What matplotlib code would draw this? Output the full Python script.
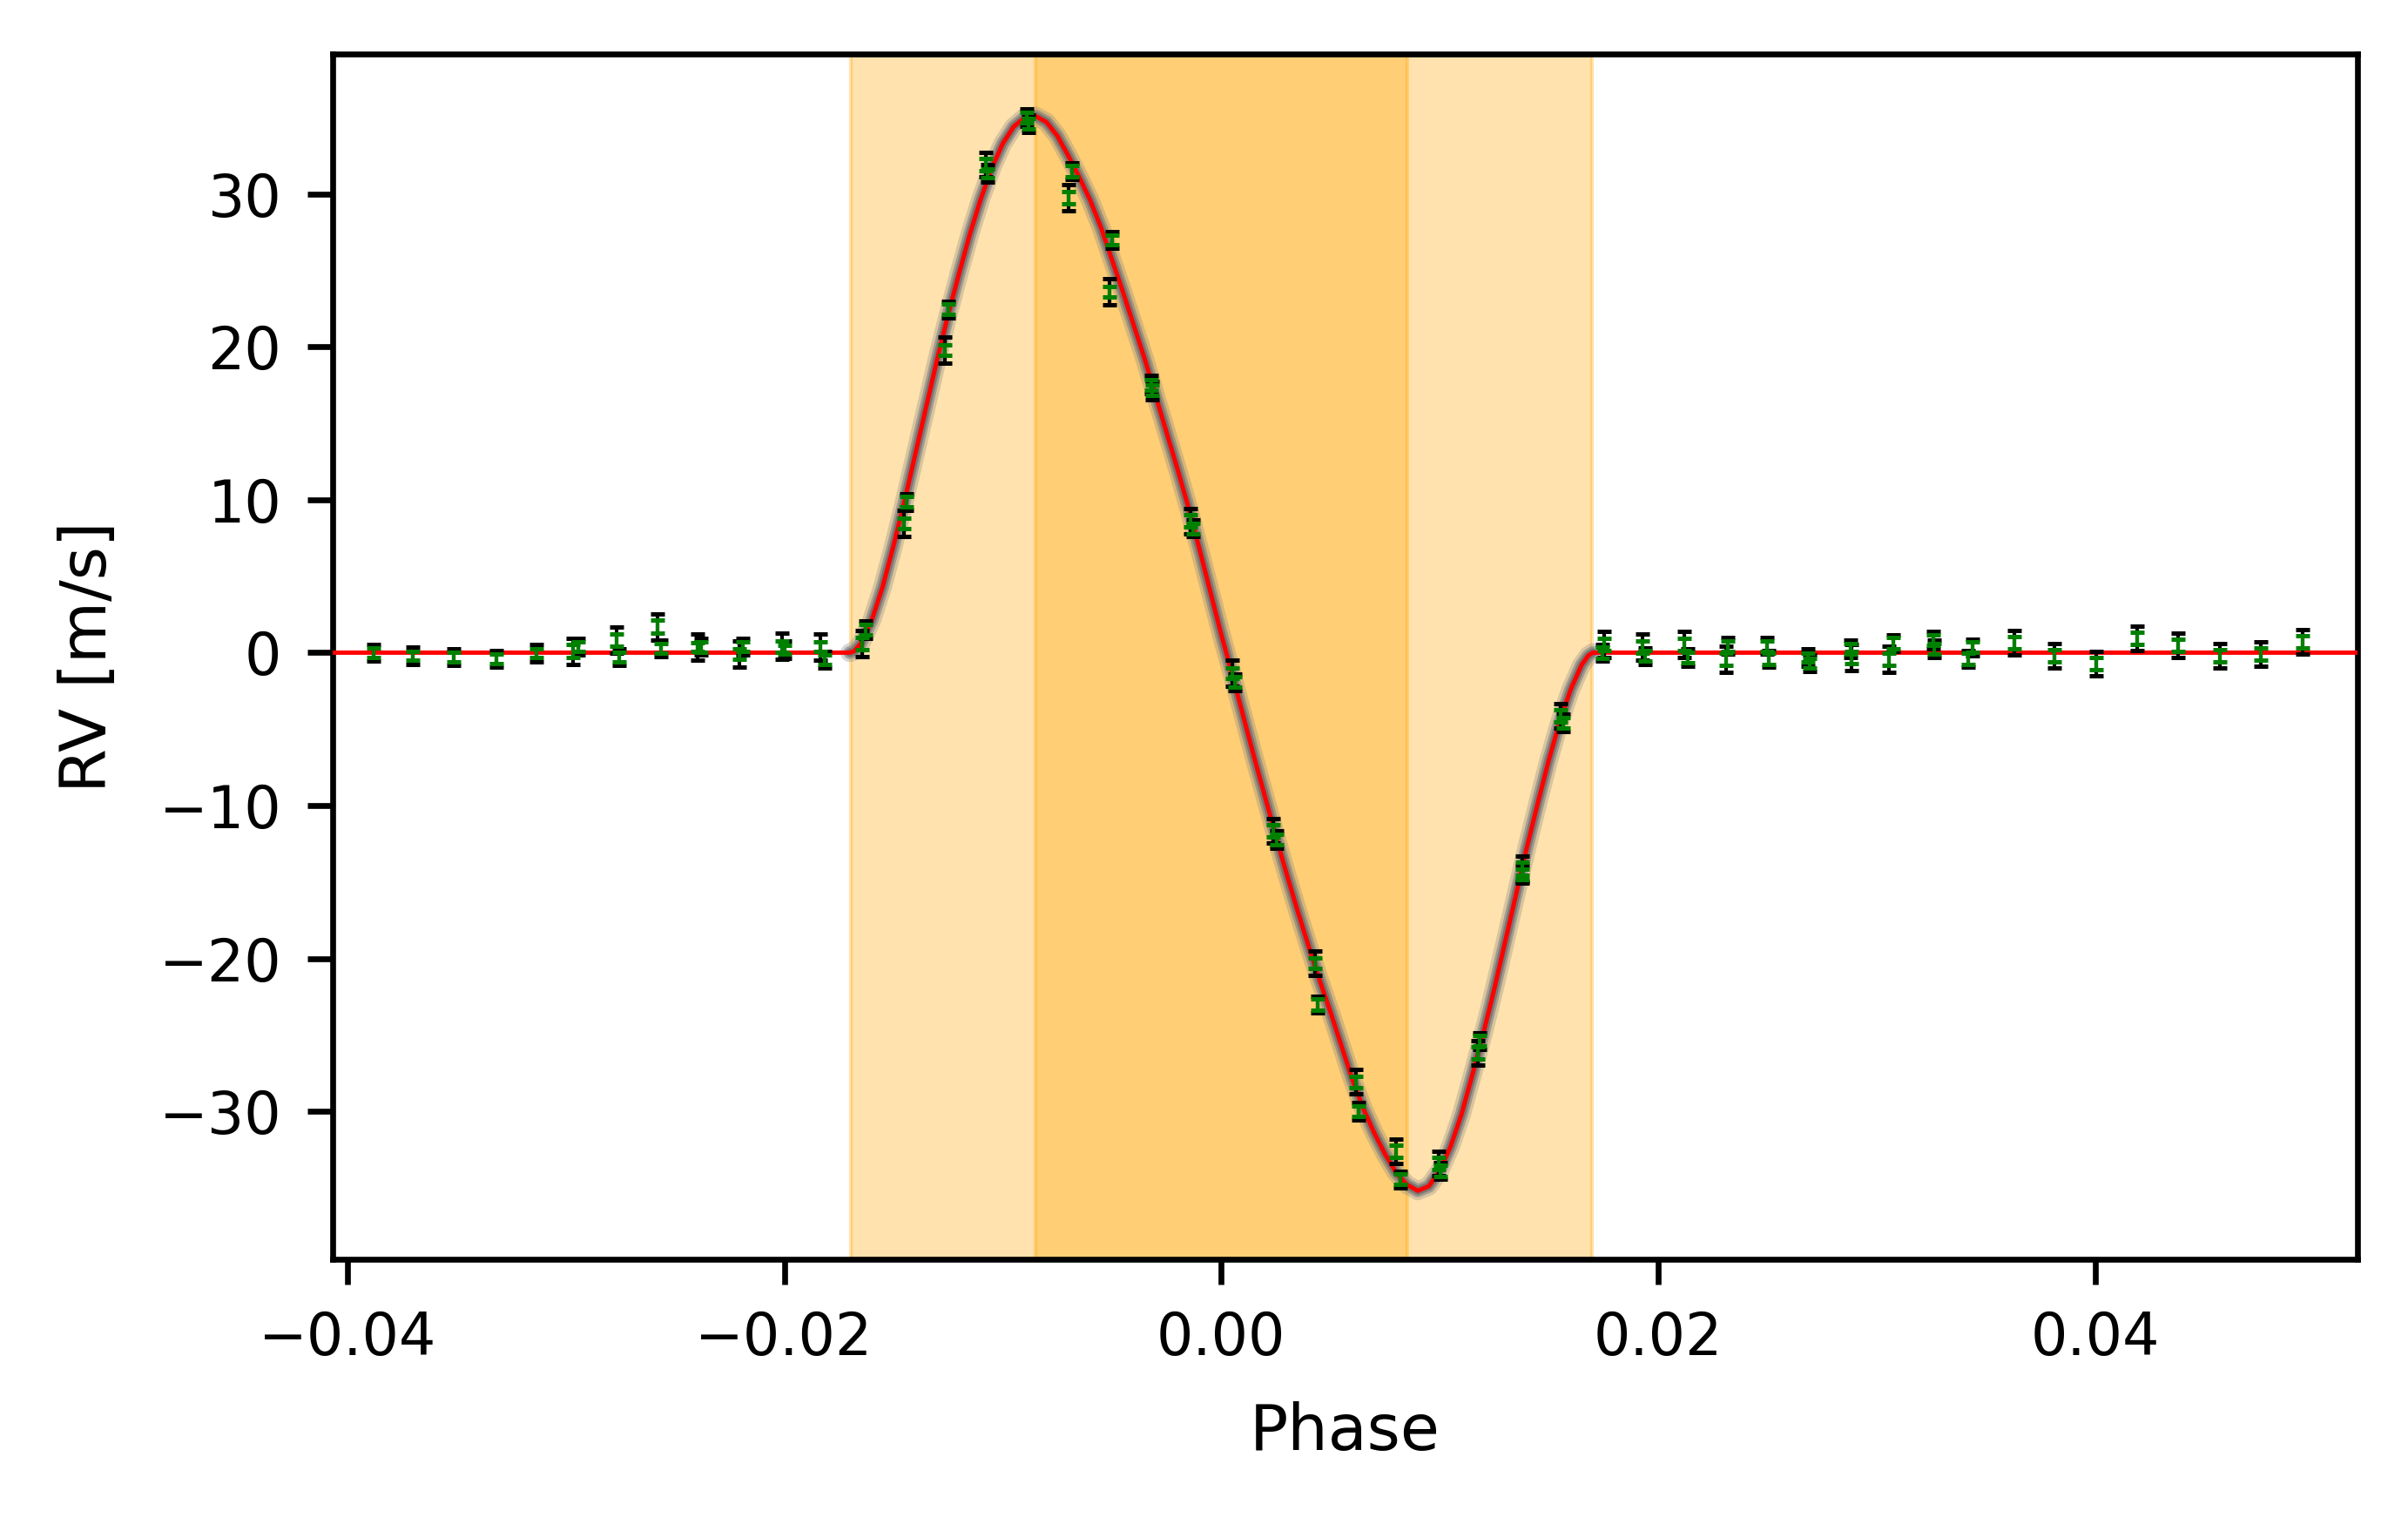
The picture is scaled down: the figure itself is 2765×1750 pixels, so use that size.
import matplotlib
matplotlib.use("Agg")
import matplotlib.pyplot as plt
import numpy as np

# ---- binned RV data: phase, RV [m/s], total error (black), photon error (green)
phase = [-0.03879, -0.03700, -0.03513, -0.03318, -0.03135,
         -0.02968, -0.02944, -0.02768, -0.02757, -0.02581, -0.02565,
         -0.02396, -0.02381, -0.02207, -0.02190, -0.02011, -0.02000,
         -0.01833, -0.01813, -0.01642, -0.01629,
         -0.01454, -0.01442, -0.01265, -0.01250, -0.01079, -0.01068,
         -0.00892, -0.00882, -0.00700, -0.00683, -0.00511, -0.00501,
         -0.00321, -0.00315, -0.00142, -0.00129, 0.00050, 0.00061,
         0.00237, 0.00253, 0.00429, 0.00443, 0.00616, 0.00629,
         0.00799, 0.00819, 0.00995, 0.01002, 0.01174, 0.01184,
         0.01377, 0.01380, 0.01555, 0.01566, 0.01752, 0.01745,
         0.01928, 0.01942, 0.02121, 0.02135, 0.02320, 0.02310,
         0.02497, 0.02507, 0.02686, 0.02695, 0.02881, 0.02885,
         0.03077, 0.03058, 0.03260, 0.03263, 0.03439, 0.03419,
         0.03632, 0.03814, 0.04004, 0.04193, 0.04380, 0.04571,
         0.04759, 0.04950]
rv = [0.0, -0.2, -0.28, -0.4, -0.03,
      0.1, 0.4, 0.82, -0.3, 1.7, 0.3,
      0.36, 0.38, -0.1, 0.4, 0.4, 0.2,
      0.38, -0.45, 0.6, 1.5,
      8.45, 9.86, 19.77, 22.45, 31.9, 31.35,
      35.0, 34.6, 29.74, 31.5, 23.6, 27.0,
      17.53, 17.15, 8.6, 8.13, -1.36, -1.93,
      -11.63, -12.22, -20.32, -23.02, -28.08, -30.0,
      -32.6, -34.45, -33.4, -33.9, -26.2, -25.4,
      -14.13, -14.5, -4.12, -4.59, 0.54, 0.0,
      0.35, -0.22, 0.54, -0.32, 0.44, -0.41,
      0.44, -0.4, -0.32, -0.7, 0.25, -0.32,
      0.63, -0.41, 0.82, 0.25, 0.35, -0.4,
      0.63, -0.19, -0.7, 0.92, 0.5, -0.22,
      -0.07, 0.73]
err_tot = [0.55, 0.55, 0.55, 0.55, 0.55,
           0.85, 0.55, 0.85, 0.55, 0.85, 0.55,
           0.85, 0.55, 0.85, 0.55, 0.85, 0.55,
           0.85, 0.55, 0.85, 0.55,
           0.85, 0.55, 0.85, 0.55, 0.80, 0.55,
           0.55, 0.55, 0.85, 0.55, 0.85, 0.55,
           0.60, 0.60, 0.85, 0.55, 0.85, 0.55,
           0.80, 0.55, 0.80, 0.55, 0.80, 0.55,
           0.80, 0.55, 0.80, 0.55, 0.80, 0.55,
           0.80, 0.55, 0.80, 0.55, 0.85, 0.55,
           0.85, 0.55, 0.85, 0.55, 0.55, 0.85,
           0.55, 0.55, 0.55, 0.55, 0.55, 0.85,
           0.55, 0.85, 0.55, 0.55, 0.55, 0.55,
           0.80, 0.80, 0.80, 0.80, 0.80, 0.80,
           0.80, 0.80]
err_phot = [0.32, 0.28, 0.30, 0.30, 0.30,
            0.42, 0.33, 0.40, 0.30, 0.42, 0.32,
            0.30, 0.33, 0.35, 0.30, 0.35, 0.30,
            0.30, 0.30, 0.38, 0.33,
            0.35, 0.35, 0.35, 0.35, 0.40, 0.30,
            0.35, 0.35, 0.40, 0.35, 0.35, 0.30,
            0.35, 0.35, 0.40, 0.35, 0.35, 0.35,
            0.40, 0.35, 0.35, 0.35, 0.35, 0.35,
            0.40, 0.35, 0.40, 0.35, 0.40, 0.35,
            0.40, 0.35, 0.40, 0.35, 0.40, 0.35,
            0.40, 0.35, 0.40, 0.35, 0.35, 0.40,
            0.35, 0.35, 0.30, 0.30, 0.35, 0.40,
            0.35, 0.40, 0.35, 0.35, 0.35, 0.35,
            0.40, 0.40, 0.40, 0.40, 0.40, 0.40,
            0.40, 0.40]

# ---- best-fit RM model curve
model_phase = [-0.0410, -0.0170, -0.0168, -0.0165, -0.0160, -0.0155, -0.0150,
               -0.0145, -0.0140, -0.0135, -0.0130, -0.0125, -0.0120, -0.0115,
               -0.0110, -0.0105, -0.0100, -0.0095, -0.0090, -0.0085, -0.0080,
               -0.0075, -0.0070, -0.0065, -0.0060, -0.0055, -0.0050, -0.0045,
               -0.0040, -0.0035, -0.0030, -0.0025, -0.0020, -0.0015, -0.0010,
               -0.0005, 0.0000, 0.0005, 0.0010, 0.0015, 0.0020, 0.0025,
               0.0030, 0.0035, 0.0040, 0.0045, 0.0050, 0.0055, 0.0060,
               0.0065, 0.0070, 0.0075, 0.0080, 0.0085, 0.0090, 0.0095,
               0.0100, 0.0105, 0.0110, 0.0115, 0.0120, 0.0125, 0.0130,
               0.0135, 0.0140, 0.0145, 0.0150, 0.0155, 0.0160, 0.0165,
               0.0168, 0.0170, 0.0530]
model_rv = [0.0, 0.0, 0.1, 0.6, 2.1, 4.3, 7.0,
            9.9, 13.0, 16.1, 19.2, 22.1, 24.8, 27.4,
            29.7, 31.7, 33.3, 34.4, 35.0, 35.1, 34.7,
            33.8, 32.5, 31.1, 29.6, 27.8, 25.7, 23.6,
            21.4, 19.2, 16.8, 14.4, 12.0, 9.5, 6.8,
            4.0, 1.2, -1.4, -4.1, -6.8, -9.4, -12.0,
            -14.5, -16.9, -19.2, -21.4, -23.5, -25.7, -27.9,
            -29.8, -31.4, -32.8, -34.0, -34.8, -35.2, -34.9,
            -33.9, -32.3, -30.2, -27.6, -24.9, -22.0, -18.9,
            -15.8, -12.7, -9.8, -7.0, -4.5, -2.4, -0.8,
            -0.2, 0.0, 0.0]

t14_half = 0.01697   # full transit half-duration (phase)
t23_half = 0.00852   # full-transit (2nd-3rd contact) half-duration

fig = plt.figure(figsize=(2765 / 600, 1750 / 600), dpi=600)
ax = fig.add_axes([0.1380, 0.1737, 0.8409, 0.7910])

ax.axvspan(-t14_half, t14_half, color="orange", alpha=0.32, lw=0.5, zorder=0)
ax.axvspan(-t23_half, t23_half, color="orange", alpha=0.32, lw=0.5, zorder=0)

# posterior spread of the model: only visible during transit
mp = np.array(model_phase)
mr = np.array(model_rv)
intr = (mp >= -0.0171) & (mp <= 0.0171)
ax.plot(mp[intr], mr[intr], color="gray", lw=2.6, alpha=0.3, zorder=2,
        solid_capstyle="round")
ax.plot(mp[intr], mr[intr], color="gray", lw=1.8, alpha=0.6, zorder=2,
        solid_capstyle="round")
ax.plot(mp[intr], mr[intr], color="dimgray", lw=1.2, alpha=0.7, zorder=2,
        solid_capstyle="round")
ax.plot(model_phase, model_rv, color="red", lw=0.6, zorder=3)

ax.errorbar(phase, rv, yerr=err_tot, fmt="none", ecolor="black",
            elinewidth=0.5, capsize=1.0, capthick=0.6, zorder=4)
ax.errorbar(phase, rv, yerr=err_phot, fmt="none", ecolor="green",
            elinewidth=0.5, capsize=1.0, capthick=0.6, zorder=5)

ax.set_xlim(-0.04069, 0.0520)
ax.set_ylim(-39.68, 39.17)
ax.set_xticks([-0.04, -0.02, 0.00, 0.02, 0.04])
ax.set_yticks([-30, -20, -10, 0, 10, 20, 30])
ax.tick_params(labelsize=8)
ax.set_xlabel("Phase", fontsize=8.8, labelpad=4.6)
ax.set_ylabel("RV [m/s]", fontsize=8.8, labelpad=5.5)

fig.savefig("out.png", dpi=600)
